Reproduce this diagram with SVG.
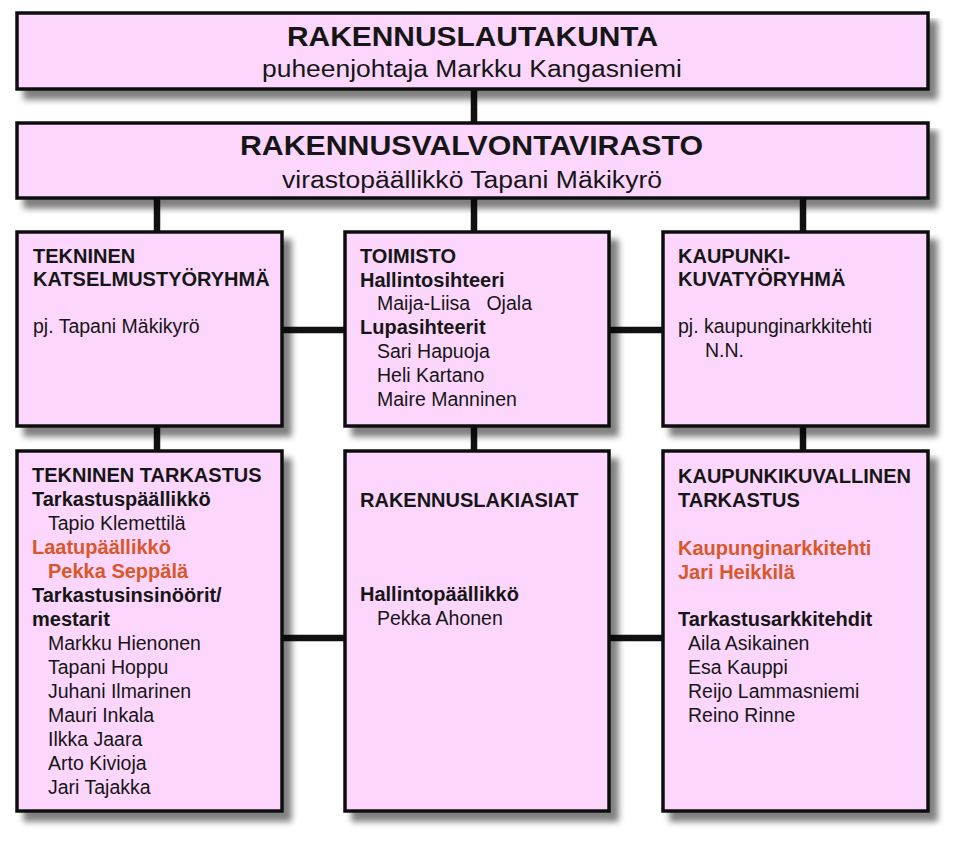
<svg xmlns="http://www.w3.org/2000/svg" width="960" height="845" viewBox="0 0 960 845">
<defs>
<filter id="sh" x="-5%" y="-5%" width="115%" height="130%">
<feGaussianBlur in="SourceAlpha" stdDeviation="3"/>
<feOffset dx="8" dy="9" result="o"/>
<feComponentTransfer><feFuncA type="linear" slope="0.5"/></feComponentTransfer>
<feMerge><feMergeNode/><feMergeNode in="SourceGraphic"/></feMerge>
</filter>
</defs>
<style>
.box{fill:#FCD6FC;stroke:#111;stroke-width:3.5}
.t{font-family:"Liberation Sans",Arial,sans-serif;fill:#161616}
.title{font-size:28px;font-weight:bold}
.sub{font-size:23px}
.b{font-size:20px;font-weight:bold}
.r{font-size:19.5px}
.o{fill:#D9582A}
.con{stroke:#111;stroke-width:6.5;fill:none}
</style>
<rect width="960" height="845" fill="#fff"/>
<g id="connectors">
<line class="con" x1="474" y1="89" x2="474" y2="124"/>
<line class="con" x1="157" y1="197" x2="157" y2="233"/>
<line class="con" x1="474" y1="197" x2="474" y2="233"/>
<line class="con" x1="803" y1="197" x2="803" y2="233"/>
<line class="con" x1="157" y1="425" x2="157" y2="452"/>
<line class="con" x1="474" y1="425" x2="474" y2="452"/>
<line class="con" x1="803" y1="425" x2="803" y2="452"/>
<line class="con" x1="282" y1="330" x2="346" y2="330"/>
<line class="con" x1="609" y1="330" x2="664" y2="330"/>
<line class="con" x1="282" y1="638" x2="346" y2="638"/>
<line class="con" x1="609" y1="638" x2="664" y2="638"/>
</g>
<g id="rakennuslautakunta">
<rect class="box" x="17" y="13" width="911" height="76" filter="url(#sh)"/>
<text class="t title" x="472.5" y="46" text-anchor="middle" textLength="371" lengthAdjust="spacingAndGlyphs">RAKENNUSLAUTAKUNTA</text>
<text class="t sub" x="472" y="77" text-anchor="middle" textLength="420" lengthAdjust="spacingAndGlyphs">puheenjohtaja Markku Kangasniemi</text>
</g>
<g id="rakennusvalvontavirasto">
<rect class="box" x="17" y="123" width="911" height="75" filter="url(#sh)"/>
<text class="t title" x="471.5" y="155" text-anchor="middle" textLength="463" lengthAdjust="spacingAndGlyphs">RAKENNUSVALVONTAVIRASTO</text>
<text class="t sub" x="472" y="188" text-anchor="middle" textLength="380" lengthAdjust="spacingAndGlyphs">virastopäällikkö Tapani Mäkikyrö</text>
</g>
<g id="tekninen-katselmustyoryhma">
<rect class="box" x="17" y="232" width="265" height="194" filter="url(#sh)"/>
<text class="t b" x="33" y="263">TEKNINEN</text>
<text class="t b" x="33" y="286">KATSELMUSTYÖRYHMÄ</text>
<text class="t r" x="33" y="333">pj. Tapani Mäkikyrö</text>
</g>
<g id="toimisto">
<rect class="box" x="345" y="232" width="264" height="194" filter="url(#sh)"/>
<text class="t b" x="360" y="263">TOIMISTO</text>
<text class="t b" x="360" y="287">Hallintosihteeri</text>
<text class="t r" x="377" y="310" xml:space="preserve">Maija-Liisa   Ojala</text>
<text class="t b" x="360" y="334">Lupasihteerit</text>
<text class="t r" x="377" y="358">Sari Hapuoja</text>
<text class="t r" x="377" y="382">Heli Kartano</text>
<text class="t r" x="377" y="406">Maire Manninen</text>
</g>
<g id="kaupunkikuvatyoryhma">
<rect class="box" x="663" y="232" width="265" height="194" filter="url(#sh)"/>
<text class="t b" x="678" y="263">KAUPUNKI-</text>
<text class="t b" x="678" y="286">KUVATYÖRYHMÄ</text>
<text class="t r" x="678" y="333">pj. kaupunginarkkitehti</text>
<text class="t r" x="705" y="357">N.N.</text>
</g>
<g id="tekninen-tarkastus">
<rect class="box" x="17" y="451" width="265" height="360" filter="url(#sh)"/>
<text class="t b" x="32" y="482">TEKNINEN TARKASTUS</text>
<text class="t b" x="32" y="506">Tarkastuspäällikkö</text>
<text class="t r" x="48" y="530">Tapio Klemettilä</text>
<text class="t b o" x="32" y="554">Laatupäällikkö</text>
<text class="t b o" x="48" y="578">Pekka Seppälä</text>
<text class="t b" x="32" y="602">Tarkastusinsinöörit/</text>
<text class="t b" x="32" y="626">mestarit</text>
<text class="t r" x="48" y="650">Markku Hienonen</text>
<text class="t r" x="48" y="674">Tapani Hoppu</text>
<text class="t r" x="48" y="698">Juhani Ilmarinen</text>
<text class="t r" x="48" y="722">Mauri Inkala</text>
<text class="t r" x="48" y="746">Ilkka Jaara</text>
<text class="t r" x="48" y="770">Arto Kivioja</text>
<text class="t r" x="48" y="794">Jari Tajakka</text>
</g>
<g id="rakennuslakiasiat">
<rect class="box" x="345" y="451" width="264" height="360" filter="url(#sh)"/>
<text class="t b" x="360" y="507">RAKENNUSLAKIASIAT</text>
<text class="t b" x="360" y="601">Hallintopäällikkö</text>
<text class="t r" x="377" y="625">Pekka Ahonen</text>
</g>
<g id="kaupunkikuvallinen-tarkastus">
<rect class="box" x="663" y="451" width="265" height="360" filter="url(#sh)"/>
<text class="t b" x="678" y="483">KAUPUNKIKUVALLINEN</text>
<text class="t b" x="678" y="507">TARKASTUS</text>
<text class="t b o" x="678" y="555">Kaupunginarkkitehti</text>
<text class="t b o" x="678" y="579">Jari Heikkilä</text>
<text class="t b" x="678" y="626">Tarkastusarkkitehdit</text>
<text class="t r" x="688" y="650">Aila Asikainen</text>
<text class="t r" x="688" y="674">Esa Kauppi</text>
<text class="t r" x="688" y="698">Reijo Lammasniemi</text>
<text class="t r" x="688" y="722">Reino Rinne</text>
</g>
</svg>
